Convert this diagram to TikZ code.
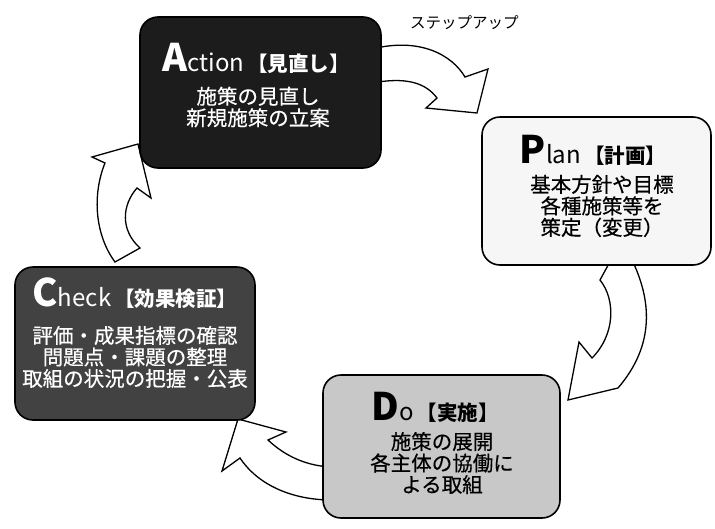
\documentclass[tikz,border=0pt]{standalone}
\usepackage{fontspec}
\setmainfont{Noto Sans CJK JP}
\newfontfamily\cjkmed[FakeBold=0.5]{Noto Sans CJK JP}
\definecolor{actfill}{HTML}{1C1C1C}
\definecolor{chkfill}{HTML}{424242}
\definecolor{dofill}{HTML}{C8C8C8}
\definecolor{plnfill}{HTML}{F6F6F6}
\tikzset{
  pdcabox/.style={draw=black, line width=1.6pt, rounded corners=18pt, inner sep=0pt},
  blockarrow/.style={draw=black, fill=white, line width=1.3pt, line join=miter},
  hdr/.style={anchor=base, inner sep=0pt},
  body/.style={align=center, inner sep=0pt, font=\cjkmed\fontsize{20.5}{21.5}\selectfont}
}
\newcommand{\pdcahead}[3]{{\fontsize{38}{38}\selectfont\bfseries #1}{\fontsize{24}{24}\selectfont #2}\hspace{3pt}{\fontsize{20.5}{20.5}\selectfont\bfseries #3}}
\begin{document}
\begin{tikzpicture}[x=1pt,y=-1pt]
\useasboundingbox (0,0) rectangle (715,528);

% block arrows (drawn first, boxes cover their bases)
\draw[blockarrow] (372,49) .. controls (420,37) and (452,55) .. (465,77)
  -- (488,69) -- (477,113) -- (426,108) -- (437,98)
  .. controls (425,82) and (405,77) .. (372,83) -- cycle;
\draw[blockarrow] (612,258) -- (600,280) .. controls (616,300) and (615,335) .. (592,358)
  -- (579,342) -- (568,400) -- (618,388)
  .. controls (655,345) and (652,300) .. (631,258) -- cycle;
\draw[blockarrow] (332,467) .. controls (305,466) and (284,455) .. (268,440)
  -- (286,432) -- (238,419) -- (222,471) -- (240,458)
  .. controls (258,485) and (292,500) .. (332,500) -- cycle;
\draw[blockarrow] (115,262) .. controls (95,235) and (92,195) .. (105,163)
  -- (92,157) -- (138,144) -- (151,198) -- (137,188)
  .. controls (122,205) and (120,230) .. (140,248) -- cycle;

% boxes
\node[pdcabox, fill=actfill, minimum width=241pt, minimum height=151pt] (act) at (260.5,92.5) {};
\node[pdcabox, fill=plnfill, minimum width=229pt, minimum height=148pt] (pln) at (596.5,191) {};
\node[pdcabox, fill=chkfill, minimum width=240pt, minimum height=153pt] (chk) at (135,343.5) {};
\node[pdcabox, fill=dofill, minimum width=237pt, minimum height=143pt] (do) at (441.5,446.5) {};

% texts
\node[hdr, text=white] (acth) at (256,71) {\pdcahead{A}{ction}{【見直し】}};
\node[body, text=white] (actb) at (258,107) {施策の見直し\\新規施策の立案};

\node[hdr] (plnh) at (593,163) {\pdcahead{P}{lan}{【計画】}};
\node[body] (plnb) at (602,206) {基本方針や目標\\各種施策等を\\策定（変更）};

\node[hdr, text=white] (chkh) at (135,306) {\pdcahead{C}{heck}{【効果検証】}};
\node[body, text=white] (chkb) at (135,357) {評価・成果指標の確認\\問題点・課題の整理\\取組の状況の把握・公表};

\node[hdr] (doh) at (435,420) {\pdcahead{D}{o}{【実施】}};
\node[body] (dob) at (442,463) {施策の展開\\各主体の協働に\\よる取組};

\node[anchor=west, inner sep=0pt, font=\fontsize{15.5}{15.5}\selectfont] (step) at (410,23) {ステップアップ};
\end{tikzpicture}
\end{document}
